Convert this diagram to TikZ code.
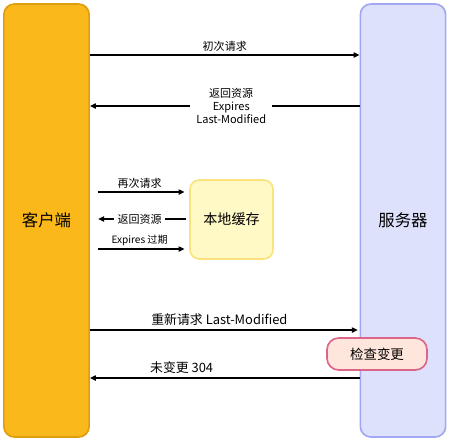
\documentclass[tikz,border=0pt]{standalone}
\usepackage{fontspec}
\setmainfont{Noto Sans CJK SC}
\usetikzlibrary{arrows.meta, positioning, calc}
\definecolor{clientorange}{HTML}{FBB81A}
\definecolor{clientborder}{HTML}{DE9F0E}
\definecolor{serverblue}{HTML}{DDE1FB}
\definecolor{serverborder}{HTML}{A2A7F3}
\definecolor{cacheyellow}{HTML}{FFF9C6}
\definecolor{cacheborder}{HTML}{FCE27C}
\definecolor{checkpeach}{HTML}{FFE6DC}
\definecolor{checkborder}{HTML}{DD6489}

\begin{document}
\begin{tikzpicture}[x=0.03cm, y=-0.03cm,
                    >={Triangle[length=5pt, width=4.5pt]},
                    side_box/.style={rectangle, draw, line width=1.4pt, rounded corners=9pt, minimum width=2.56cm, minimum height=12.99cm, inner sep=0pt, font=\fontsize{14}{16}\selectfont},
                    cache_box/.style={rectangle, draw=cacheborder, fill=cacheyellow, line width=1.4pt, rounded corners=8pt, minimum width=2.49cm, minimum height=2.37cm, font=\fontsize{12}{14}\selectfont},
                    check_box/.style={rectangle, draw=checkborder, fill=checkpeach, line width=1.4pt, rounded corners=10pt, minimum width=3cm, minimum height=0.96cm, font=\fontsize{11.5}{13}\selectfont},
                    msg/.style={->, line width=0.9pt},
                    msg_label/.style={font=\fontsize{9.4}{11}\selectfont, inner sep=1pt},
                    ]

    \useasboundingbox (0,0) rectangle (453,443);

    % Client and server
    \node[side_box, draw=clientborder, fill=clientorange] (client) at (46.5,220.5) {客户端};
    \node[side_box, draw=serverborder, fill=serverblue] (server) at (403,220.5) {服务器};

    % Local cache
    \node[cache_box] (cache) at (231.5,219.5) {本地缓存};

    % Rows of the messages
    \coordinate (first_req) at (0,55);
    \coordinate (first_resp) at (0,106);
    \coordinate (again_req) at (0,192);
    \coordinate (cache_resp) at (0,219);
    \coordinate (expired) at (0,249);
    \coordinate (revalidate) at (0,330);
    \coordinate (not_modified) at (0,378);

    % First request
    \draw[msg] (client.east |- first_req) -- node[msg_label, above=2pt] (first_req_text) {初次请求} (server.west |- first_req);
    \draw[msg] (server.west |- first_resp) -- node[msg_label, fill=white, align=center, pos=0.476, inner xsep=5pt] (first_resp_text) {返回资源\\Expires\\Last-Modified} (client.east |- first_resp);

    % Local cache
    \draw[msg, shorten <=6.8pt, shorten >=4pt] (client.east |- again_req) -- node[msg_label, above=2pt] (again_req_text) {再次请求} (cache.west |- again_req);
    \draw[msg, shorten <=2.5pt, shorten >=7pt] (cache.west |- cache_resp) -- node[msg_label, fill=white, inner xsep=3pt] (cache_resp_text) {返回资源} (client.east |- cache_resp);
    \draw[msg, shorten <=6.8pt, shorten >=4pt] (client.east |- expired) -- node[msg_label, above=1pt, font=\fontsize{8.6}{10}\selectfont] (expired_text) {Expires 过期} (cache.west |- expired);

    % Revalidation
    \draw[msg, shorten >=1.5pt] (client.east |- revalidate) -- node[msg_label, above=2pt, pos=0.48, font=\fontsize{11}{13}\selectfont] (revalidate_text) {重新请求 Last-Modified} (server.west |- revalidate);
    \node[check_box] (check) at (377,354) {检查变更};
    \draw[msg] (server.west |- not_modified) -- node[msg_label, above=2pt, pos=0.66, font=\fontsize{11}{13}\selectfont] (not_modified_text) {未变更 304} (client.east |- not_modified);

\end{tikzpicture}
\end{document}
